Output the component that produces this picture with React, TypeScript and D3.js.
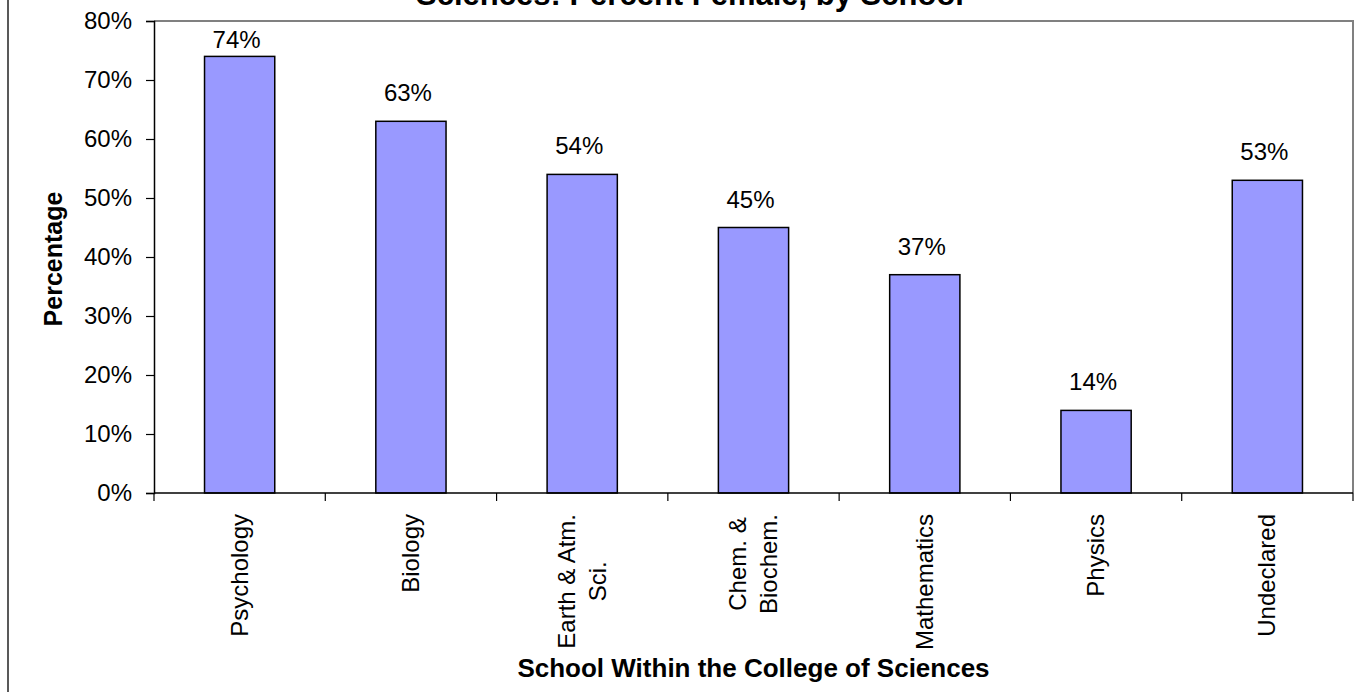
import { useEffect, useRef } from 'react';
import * as d3 from 'd3';

// chart data
const schools = ['Psychology', 'Biology', 'Earth & Atm.\nSci.', 'Chem. &\nBiochem.', 'Mathematics', 'Physics', 'Undeclared'];
const pctFemale = [74, 63, 54, 45, 37, 14, 53];
const yTicks = [0, 10, 20, 30, 40, 50, 60, 70, 80];

const chartTitle = 'Sciences: Percent Female, by School';
const xTitle = 'School Within the College of Sciences';
const yTitle = 'Percentage';

const FONT = '"Liberation Sans", Arial, Helvetica, sans-serif';

const App = () => {
  const svgRef = useRef<SVGSVGElement | null>(null);

  useEffect(() => {
    if (!svgRef.current) return;
    const svg = d3.select(svgRef.current);
    svg.selectAll('*').remove();

    const W = 1360;
    const H = 693;
    const plot = { left: 154, top: 21, right: 1353, bottom: 493 };

    const x = d3.scaleBand<string>()
      .domain(schools)
      .range([plot.left, plot.right])
      .paddingInner(0.59)
      .paddingOuter(0.295);

    const xEdges = d3.scaleBand<string>()
      .domain(schools)
      .range([plot.left, plot.right]);

    const y = d3.scaleLinear().domain([0, 80]).range([plot.bottom, plot.top]);

    svg.attr('width', W).attr('height', H).style('font-family', FONT);

    svg.append('rect').attr('width', W).attr('height', H).attr('fill', '#fff');

    // outer chart border (only left edge visible)
    svg.append('line')
      .attr('x1', 8).attr('x2', 8).attr('y1', 0).attr('y2', 692)
      .attr('stroke', '#222').attr('stroke-width', 1.5);

    // title (clipped at the top, as in the source)
    svg.append('text')
      .attr('x', 690).attr('y', 5)
      .attr('text-anchor', 'middle')
      .attr('font-size', 31).attr('font-weight', 'bold')
      .text(chartTitle);

    // plot area frame: top and right in gray
    svg.append('path')
      .attr('d', `M${plot.left},${plot.top}H${plot.right}V${plot.bottom}`)
      .attr('fill', 'none').attr('stroke', '#808080').attr('stroke-width', 2);

    // bars
    svg.selectAll('.bar')
      .data(schools)
      .enter()
      .append('rect')
      .attr('class', 'bar')
      .attr('x', d => x(d)!)
      .attr('y', (d, i) => y(pctFemale[i]))
      .attr('width', x.bandwidth())
      .attr('height', (d, i) => y(0) - y(pctFemale[i]))
      .attr('fill', '#9999FF')
      .attr('stroke', '#000')
      .attr('stroke-width', 1.5);

    // value labels, kept inside the plot area
    svg.selectAll('.val')
      .data(schools)
      .enter()
      .append('text')
      .attr('class', 'val')
      .attr('x', d => x(d)! + x.bandwidth() / 2 - 3)
      .attr('y', (d, i) => Math.max(y(pctFemale[i]) - 20, plot.top + 27))
      .attr('text-anchor', 'middle')
      .attr('font-size', 24)
      .text((d, i) => `${pctFemale[i]}%`);

    // y axis
    const yAxis = d3.axisLeft(y)
      .tickValues(yTicks)
      .tickSize(8)
      .tickPadding(14)
      .tickFormat(d => `${d}%`);

    const yg = svg.append('g')
      .attr('transform', `translate(${plot.left},0)`)
      .call(yAxis);
    yg.select('.domain').attr('stroke', '#000').attr('stroke-width', 1.5);
    yg.selectAll('.tick line').attr('stroke', '#000').attr('stroke-width', 1.2);
    yg.selectAll('.tick text')
      .attr('font-size', 24)
      .attr('font-family', FONT)
      .attr('fill', '#000')
      .attr('dy', '0.33em');

    // x axis line and ticks at category boundaries
    svg.append('line')
      .attr('x1', plot.left).attr('x2', plot.right)
      .attr('y1', plot.bottom).attr('y2', plot.bottom)
      .attr('stroke', '#000').attr('stroke-width', 1.5);

    const edges = schools.map(s => xEdges(s)!).concat([plot.right]);
    svg.selectAll('.xtick')
      .data(edges)
      .enter()
      .append('line')
      .attr('class', 'xtick')
      .attr('x1', d => d).attr('x2', d => d)
      .attr('y1', plot.bottom).attr('y2', plot.bottom + 8)
      .attr('stroke', '#000').attr('stroke-width', 1.2);

    // rotated category labels, lines centred on each other
    const lineGap = 31;
    schools.forEach(s => {
      const lines = s.split('\n');
      const cx = xEdges(s)! + xEdges.bandwidth() / 2;
      const g = svg.append('g');
      const texts = lines.map((ln, j) => {
        const bx = cx + 8 + (j - (lines.length - 1) / 2) * lineGap;
        return g.append('text')
          .attr('font-size', 24)
          .attr('text-anchor', 'middle')
          .attr('data-bx', bx)
          .text(ln);
      });
      const maxLen = d3.max(texts, t => (t.node() as SVGTextElement).getComputedTextLength()) || 0;
      const cy = 514 + maxLen / 2;
      texts.forEach(t => {
        const bx = +t.attr('data-bx');
        t.attr('transform', `translate(${bx},${cy}) rotate(-90)`);
      });
    });

    // axis titles
    svg.append('text')
      .attr('x', (plot.left + plot.right) / 2)
      .attr('y', 677)
      .attr('text-anchor', 'middle')
      .attr('font-size', 26).attr('font-weight', 'bold')
      .text(xTitle);

    svg.append('text')
      .attr('transform', `translate(62,${(plot.top + plot.bottom) / 2 + 2}) rotate(-90)`)
      .attr('text-anchor', 'middle')
      .attr('font-size', 25).attr('font-weight', 'bold')
      .text(yTitle);
  }, []);

  return (
    <svg ref={svgRef} style={{ position: 'absolute', left: 0, top: 0, display: 'block' }} />
  );
};

export default App;
